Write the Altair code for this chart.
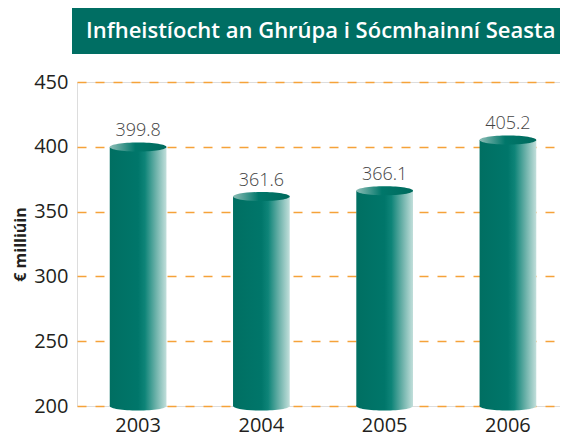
import altair as alt
import pandas as pd

years = ["2003", "2004", "2005", "2006"]
values = [399.8, 361.6, 366.1, 405.2]
labels = ["399.8", "361.6", "366.1", "405.2"]
y_ticks = [200, 250, 300, 350, 400, 450]
title_text = "Infheistíocht an Ghrúpa i Sócmhainní Seasta"
y_title = "€ milliúin"

df = pd.DataFrame({"year": years, "value": values, "label": labels, "base": [200] * 4})

FONT = "Open Sans"
W, H = 483, 324
TOP = 74

xscale = alt.Scale(paddingInner=0.54, paddingOuter=0.229, align=0.58)
yscale = alt.Scale(domain=[200, 450], nice=False, zero=False)

x_enc = alt.X("year:N", scale=xscale, sort=years,
              axis=alt.Axis(title=None, labelAngle=0, labelFontSize=20, labelFont=FONT,
                            labelFontWeight=500, labelColor="#231f20", labelPadding=9,
                            domain=False, ticks=False, labelBaseline="top"))

body_grad = alt.Gradient(
    gradient="linear", x1=0, x2=1, y1=0, y2=0,
    stops=[alt.GradientStop(offset=0, color="#006f62"),
           alt.GradientStop(offset=0.5, color="#00766a"),
           alt.GradientStop(offset=0.62, color="#0e8478"),
           alt.GradientStop(offset=0.82, color="#6fb3ab"),
           alt.GradientStop(offset=1, color="#c2dfdb")])
top_grad = alt.Gradient(
    gradient="linear", x1=0, x2=1, y1=0, y2=0,
    stops=[alt.GradientStop(offset=0, color="#8dbdb6"),
           alt.GradientStop(offset=0.45, color="#00776a"),
           alt.GradientStop(offset=1, color="#006a5d")])

ellipse = "M-1,0A1,0.16,0,1,0,1,0A1,0.16,0,1,0,-1,0Z"
sym_size = 56.7 ** 2

base = alt.Chart(df)

bars = base.mark_bar(fill=body_grad, strokeWidth=0).encode(
    x=x_enc,
    y=alt.Y("value:Q", scale=yscale,
            axis=alt.Axis(values=y_ticks, title=y_title, titleFont=FONT, titleFontSize=16,
                          titleFontWeight="bold", titleColor="#231f20", titleAngle=-90,
                          titleX=-57, titleY=H / 2, titleAlign="center", titleBaseline="middle",
                          labelFont=FONT, labelFontSize=20, labelFontWeight=500,
                          labelColor="#231f20", labelPadding=9, domain=False, ticks=False,
                          grid=True, gridColor="#f5a23a", gridDash=[9, 9], gridWidth=1.5)),
    y2="base:Q",
)

bottoms = base.mark_point(shape=ellipse, size=sym_size, filled=True, fill=body_grad,
                          opacity=1, strokeWidth=0).encode(
    x=alt.X("year:N", scale=xscale, sort=years),
    y=alt.Y("base:Q", scale=yscale),
)

tops = base.mark_point(shape=ellipse, size=sym_size, filled=True, fill=top_grad,
                       opacity=1, strokeWidth=0).encode(
    x=alt.X("year:N", scale=xscale, sort=years),
    y=alt.Y("value:Q", scale=yscale),
)

texts = base.mark_text(font=FONT, fontSize=18, fontWeight=300, color="#444444",
                       baseline="alphabetic", dy=-11).encode(
    x=alt.X("year:N", scale=xscale, sort=years),
    y=alt.Y("value:Q", scale=yscale),
    text="label:N",
)

tdf = pd.DataFrame({"t": [title_text]})
title_box = alt.Chart(tdf).mark_rect(color="#006e63").encode(
    x=alt.value(-5), x2=alt.value(W + 2), y=alt.value(-TOP), y2=alt.value(-TOP + 46))
title_txt = alt.Chart(tdf).mark_text(font=FONT, fontSize=22, fontWeight=600, color="white",
                                     align="left", baseline="middle").encode(
    x=alt.value(9), y=alt.value(-TOP + 23), text="t:N")

chart = alt.layer(bars, bottoms, tops, texts, title_box, title_txt).properties(
    width=W, height=H,
    autosize=alt.AutoSizeParams(type="none"),
    padding={"left": 69, "top": TOP, "right": 0, "bottom": 34},
).configure_view(stroke=None).configure(background="white")

chart.save("out.html", embed_options={"renderer": "svg", "actions": False})
